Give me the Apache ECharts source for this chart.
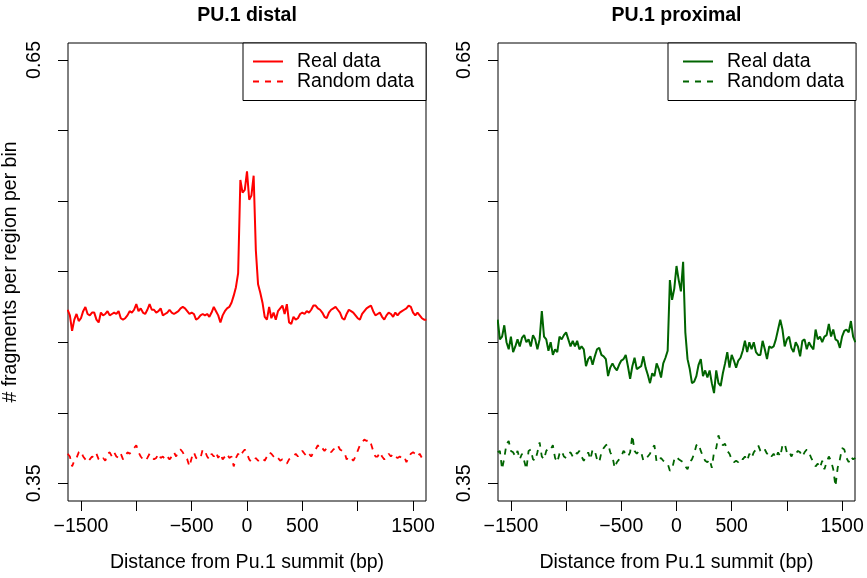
<!DOCTYPE html>
<html>
<head>
<meta charset="utf-8">
<script src="https://cdn.jsdelivr.net/npm/echarts@6/dist/echarts.min.js"></script>
<style>
  html, body { margin: 0; padding: 0; background: #fff; }
  #chart { width: 867px; height: 578px; }
</style>
</head>
<body>
<div id="chart"></div>
<script>
// bins: -1620 .. 1620 bp, 20 bp apart
const binStart = -1620;
const binStep = 20;

const realDistal = [
  0.473, 0.469, 0.458, 0.466, 0.470, 0.465, 0.467, 0.472, 0.475, 0.470,
  0.469, 0.471, 0.471, 0.466, 0.464, 0.471, 0.469, 0.470, 0.472, 0.469,
  0.470, 0.471, 0.470, 0.472, 0.467, 0.466, 0.467, 0.469, 0.472, 0.471,
  0.473, 0.477, 0.472, 0.474, 0.471, 0.470, 0.473, 0.477, 0.473, 0.473,
  0.471, 0.472, 0.474, 0.469, 0.470, 0.471, 0.473, 0.471, 0.470, 0.471,
  0.472, 0.474, 0.475, 0.474, 0.472, 0.470, 0.471, 0.470, 0.466, 0.467,
  0.469, 0.470, 0.469, 0.470, 0.468, 0.471, 0.475, 0.472, 0.469, 0.464,
  0.469, 0.472, 0.474, 0.475, 0.478, 0.483, 0.489, 0.499, 0.565, 0.556,
  0.558, 0.571, 0.551, 0.554, 0.568, 0.515, 0.491, 0.485, 0.478, 0.468,
  0.466, 0.475, 0.467, 0.471, 0.466, 0.472, 0.474, 0.476, 0.470, 0.477,
  0.464, 0.463, 0.468, 0.466, 0.467, 0.470, 0.471, 0.470, 0.472, 0.471,
  0.473, 0.476, 0.476, 0.474, 0.473, 0.471, 0.468, 0.467, 0.471, 0.473,
  0.474, 0.475, 0.473, 0.471, 0.467, 0.466, 0.470, 0.473, 0.472, 0.471,
  0.469, 0.467, 0.466, 0.470, 0.472, 0.474, 0.475, 0.476, 0.472, 0.469,
  0.470, 0.471, 0.468, 0.466, 0.469, 0.471, 0.470, 0.468, 0.471, 0.469,
  0.471, 0.472, 0.473, 0.474, 0.476, 0.475, 0.471, 0.469, 0.471, 0.469,
  0.467, 0.466, 0.466
];

const randomDistal = [
  0.371, 0.369, 0.362, 0.366, 0.368, 0.372, 0.373, 0.369, 0.367, 0.365,
  0.367, 0.369, 0.368, 0.371, 0.367, 0.366, 0.368, 0.366, 0.371, 0.372,
  0.369, 0.372, 0.369, 0.368, 0.371, 0.367, 0.369, 0.372, 0.371, 0.373,
  0.375, 0.377, 0.372, 0.369, 0.367, 0.366, 0.368, 0.371, 0.369, 0.367,
  0.368, 0.371, 0.368, 0.369, 0.367, 0.369, 0.367, 0.369, 0.372, 0.369,
  0.373, 0.374, 0.372, 0.369, 0.367, 0.362, 0.368, 0.372, 0.368, 0.367,
  0.368, 0.374, 0.373, 0.369, 0.367, 0.371, 0.369, 0.372, 0.368, 0.371,
  0.367, 0.369, 0.371, 0.368, 0.369, 0.362, 0.368, 0.371, 0.369, 0.372,
  0.374, 0.371, 0.367, 0.365, 0.366, 0.368, 0.366, 0.367, 0.368, 0.366,
  0.369, 0.372, 0.371, 0.369, 0.367, 0.368, 0.366, 0.367, 0.365, 0.364,
  0.367, 0.368, 0.369, 0.371, 0.369, 0.372, 0.373, 0.371, 0.369, 0.371,
  0.369, 0.372, 0.374, 0.377, 0.374, 0.375, 0.373, 0.375, 0.374, 0.372,
  0.374, 0.375, 0.377, 0.374, 0.373, 0.372, 0.367, 0.369, 0.368, 0.366,
  0.369, 0.373, 0.377, 0.379, 0.381, 0.380, 0.381, 0.378, 0.373, 0.369,
  0.369, 0.372, 0.369, 0.367, 0.368, 0.371, 0.369, 0.371, 0.369, 0.368,
  0.369, 0.368, 0.369, 0.365, 0.368, 0.371, 0.372, 0.371, 0.369, 0.371,
  0.368, 0.369, 0.368
];

const realProximal = [
  0.466, 0.452, 0.454, 0.462, 0.450, 0.445, 0.454, 0.443, 0.447, 0.452,
  0.447, 0.453, 0.455, 0.450, 0.452, 0.447, 0.455, 0.452, 0.445, 0.452,
  0.472, 0.454, 0.452, 0.444, 0.450, 0.441, 0.445, 0.443, 0.454, 0.452,
  0.455, 0.457, 0.452, 0.447, 0.451, 0.447, 0.451, 0.445, 0.447, 0.445,
  0.433, 0.438, 0.440, 0.434, 0.440, 0.445, 0.446, 0.441, 0.440, 0.438,
  0.426, 0.432, 0.435, 0.432, 0.430, 0.434, 0.437, 0.438, 0.441, 0.433,
  0.424, 0.433, 0.439, 0.431, 0.432, 0.433, 0.440, 0.432, 0.427, 0.421,
  0.428, 0.426, 0.435, 0.431, 0.425, 0.435, 0.439, 0.444, 0.494, 0.480,
  0.488, 0.504, 0.494, 0.486, 0.507, 0.457, 0.438, 0.431, 0.421, 0.422,
  0.426, 0.434, 0.438, 0.426, 0.430, 0.425, 0.430, 0.421, 0.414, 0.430,
  0.421, 0.419, 0.428, 0.435, 0.443, 0.432, 0.441, 0.437, 0.432, 0.437,
  0.439, 0.444, 0.451, 0.443, 0.450, 0.445, 0.450, 0.443, 0.441, 0.441,
  0.451, 0.445, 0.438, 0.447, 0.446, 0.447, 0.452, 0.459, 0.466, 0.459,
  0.447, 0.452, 0.454, 0.446, 0.443, 0.450, 0.447, 0.440, 0.451, 0.452,
  0.445, 0.450, 0.447, 0.445, 0.459, 0.452, 0.454, 0.450, 0.454, 0.455,
  0.463, 0.454, 0.459, 0.452, 0.451, 0.446, 0.454, 0.458, 0.459, 0.457,
  0.465, 0.454, 0.450
];

const randomProximal = [
  0.372, 0.373, 0.360, 0.368, 0.378, 0.380, 0.373, 0.372, 0.369, 0.373,
  0.367, 0.371, 0.366, 0.360, 0.373, 0.374, 0.367, 0.366, 0.372, 0.379,
  0.369, 0.367, 0.373, 0.375, 0.374, 0.377, 0.368, 0.365, 0.371, 0.373,
  0.369, 0.368, 0.371, 0.372, 0.369, 0.372, 0.371, 0.373, 0.369, 0.366,
  0.369, 0.372, 0.367, 0.374, 0.373, 0.367, 0.365, 0.372, 0.375, 0.377,
  0.378, 0.372, 0.369, 0.361, 0.365, 0.367, 0.369, 0.373, 0.371, 0.369,
  0.372, 0.384, 0.373, 0.371, 0.373, 0.372, 0.366, 0.367, 0.369, 0.371,
  0.375, 0.377, 0.365, 0.367, 0.368, 0.366, 0.365, 0.364, 0.359, 0.360,
  0.367, 0.369, 0.367, 0.366, 0.365, 0.362, 0.360, 0.365, 0.367, 0.371,
  0.377, 0.378, 0.373, 0.369, 0.366, 0.365, 0.367, 0.361, 0.372, 0.375,
  0.384, 0.379, 0.377, 0.378, 0.373, 0.371, 0.367, 0.365, 0.366, 0.365,
  0.368, 0.367, 0.369, 0.366, 0.371, 0.368, 0.372, 0.374, 0.377, 0.373,
  0.372, 0.374, 0.371, 0.372, 0.369, 0.371, 0.368, 0.372, 0.369, 0.377,
  0.378, 0.372, 0.373, 0.369, 0.372, 0.371, 0.373, 0.372, 0.369, 0.372,
  0.374, 0.372, 0.368, 0.365, 0.362, 0.364, 0.361, 0.366, 0.360, 0.365,
  0.369, 0.366, 0.360, 0.348, 0.361, 0.367, 0.375, 0.374, 0.368, 0.365,
  0.369, 0.367, 0.368
];

const xTicks = [-1500, -1000, -500, 0, 500, 1000, 1500];
const xLabels = [-1500, -500, 0, 500, 1500];
const yTicks = [0.35, 0.40, 0.45, 0.50, 0.55, 0.60, 0.65];
const yLabels = [0.35, 0.65];

const FONT = "'Liberation Sans', Arial, Helvetica, sans-serif";
const FS = 19.5;
const RED = '#ff0000';
const GREEN = '#006400';

function toPairs(vals) {
  return vals.map((v, i) => [binStart + i * binStep, v]);
}

function xAxisFor(gridIndex) {
  return {
    type: 'value', gridIndex: gridIndex,
    min: -1617, max: 1617,
    name: 'Distance from Pu.1 summit (bp)',
    nameLocation: 'middle', nameGap: 52,
    nameTextStyle: { fontSize: FS, color: '#000', fontFamily: FONT },
    axisLine: { show: false, onZero: false },
    splitLine: { show: false },
    axisTick: { show: true, length: 10, customValues: xTicks, lineStyle: { color: '#000', width: 1 } },
    axisLabel: {
      customValues: xLabels, margin: 16, fontSize: FS, color: '#000', fontFamily: FONT,
      formatter: v => String(v).replace('-', '\u2212')
    }
  };
}

function yAxisFor(gridIndex, withName) {
  return {
    type: 'value', gridIndex: gridIndex,
    min: 0.3375, max: 0.662,
    name: withName ? '# fragments per region per bin' : '',
    nameLocation: 'middle', nameGap: 47,
    nameTextStyle: { fontSize: FS, color: '#000', fontFamily: FONT },
    axisLine: { show: false, onZero: false },
    splitLine: { show: false },
    axisTick: { show: true, length: 10, customValues: yTicks, lineStyle: { color: '#000', width: 1 } },
    axisLabel: {
      customValues: yLabels, rotate: 90, margin: 23, fontSize: FS, color: '#000', fontFamily: FONT,
      formatter: v => v.toFixed(2)
    }
  };
}

function legendFor(left, padLeft, names) {
  return {
    left: left, top: 43, orient: 'vertical',
    itemWidth: 30, itemHeight: 14, itemGap: 0,
    padding: [8.5, 12, 9, padLeft],
    borderColor: '#000', borderWidth: 1, backgroundColor: '#fff',
    selectedMode: false,
    itemStyle: { opacity: 0 },
    textStyle: { fontSize: FS, color: '#000', fontFamily: FONT, lineHeight: 19, padding: [0, 0, 0, 9] },
    formatter: name => name.replace(' (proximal)', ''),
    data: names
  };
}

const chart = echarts.init(document.getElementById('chart'));
chart.setOption({
  animation: false,
  backgroundColor: '#fff',
  title: [
    { text: 'PU.1 distal', left: 247, top: 6, textAlign: 'center', padding: 0,
      textStyle: { fontSize: FS, fontWeight: 'bold', color: '#000', fontFamily: FONT } },
    { text: 'PU.1 proximal', left: 676.5, top: 6, textAlign: 'center', padding: 0,
      textStyle: { fontSize: FS, fontWeight: 'bold', color: '#000', fontFamily: FONT } }
  ],
  grid: [
    { left: 68, top: 43, width: 358, height: 459, show: true, borderColor: '#000', borderWidth: 1 },
    { left: 498, top: 43, width: 357, height: 459, show: true, borderColor: '#000', borderWidth: 1 }
  ],
  legend: [
    legendFor(243, 9, ['Real data', 'Random data']),
    legendFor(668, 14, ['Real data (proximal)', 'Random data (proximal)'])
  ],
  xAxis: [xAxisFor(0), xAxisFor(1)],
  yAxis: [yAxisFor(0, true), yAxisFor(1, false)],
  series: [
    { name: 'Real data', type: 'line', xAxisIndex: 0, yAxisIndex: 0, symbol: 'none',
      lineStyle: { color: RED, width: 2 }, itemStyle: { color: RED }, data: toPairs(realDistal) },
    { name: 'Random data', type: 'line', xAxisIndex: 0, yAxisIndex: 0, symbol: 'none',
      lineStyle: { color: RED, width: 1.8, type: [6, 6] }, itemStyle: { color: RED }, data: toPairs(randomDistal) },
    { name: 'Real data (proximal)', type: 'line', xAxisIndex: 1, yAxisIndex: 1, symbol: 'none',
      lineStyle: { color: GREEN, width: 2 }, itemStyle: { color: GREEN }, data: toPairs(realProximal) },
    { name: 'Random data (proximal)', type: 'line', xAxisIndex: 1, yAxisIndex: 1, symbol: 'none',
      lineStyle: { color: GREEN, width: 1.8, type: [6, 6] }, itemStyle: { color: GREEN }, data: toPairs(randomProximal) }
  ]
});
</script>
</body>
</html>
